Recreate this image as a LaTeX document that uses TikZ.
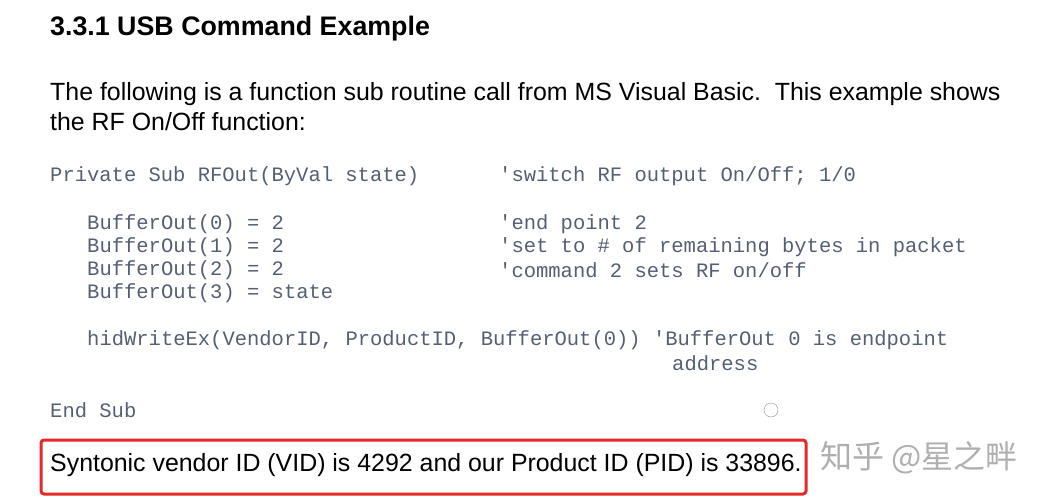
\documentclass[tikz,border=0pt]{standalone}
\usepackage{fontspec}
\setmainfont{Liberation Sans}
\setmonofont{Liberation Mono}
\newfontfamily\cjk{Noto Sans CJK SC}
\usetikzlibrary{math}
\definecolor{codegray}{RGB}{85,95,115}
\definecolor{boxred}{RGB}{230,40,40}
\definecolor{wmgray}{RGB}{175,175,175}
\begin{document}
\begin{tikzpicture}[x=1pt,y=-1pt,
	txt/.style={anchor=west,inner sep=0pt,font=\fontsize{24.9}{28}\selectfont},
	code/.style={anchor=west,inner sep=0pt,text=codegray,font=\ttfamily\fontsize{20.5}{24}\selectfont}]
	\tikzmath{\lx=50; \ix=87; \cx=499;}
	\useasboundingbox (0,0) rectangle (1044,500);
	\node[txt,font=\bfseries\fontsize{26.8}{30}\selectfont] (head) at (\lx,29) {3.3.1 USB Command Example};
	\node[txt] (para1) at (\lx,94) {The following is a function sub routine call from MS Visual Basic.\ \ This example shows};
	\node[txt] (para2) at (\lx,122) {the RF On/Off function:};
	\node[code] (sub) at (\lx,176) {Private Sub RFOut(ByVal state)};
	\node[code] (csub) at (\cx,176) {'switch RF output On/Off; 1/0};
	\node[code] (bo0) at (\ix,224) {BufferOut(0) = 2};
	\node[code] (c0) at (\cx,224) {'end point 2};
	\node[code] (bo1) at (\ix,247) {BufferOut(1) = 2};
	\node[code] (c1) at (\cx,247) {'set to \# of remaining bytes in packet};
	\node[code] (bo2) at (\ix,270) {BufferOut(2) = 2};
	\node[code] (c2) at (\cx,270) {'command 2 sets RF on/off};
	\node[code] (bo3) at (\ix,293) {BufferOut(3) = state};
	\node[code] (hid) at (\ix,340) {hidWriteEx(VendorID, ProductID, BufferOut(0)) 'BufferOut 0 is endpoint};
	\node[code] (addr) at (672,363) {address};
	\node[code] (end) at (\lx,410) {End Sub};
	\node[draw=codegray!70,circle,minimum size=14pt,inner sep=0pt] (icon) at (771,410) {};
	\node[txt] (vid) at (\lx,465) {Syntonic vendor ID (VID) is 4292 and our Product ID (PID) is 33896.};
	\draw[boxred,line width=3pt,rounded corners=3pt] (41,440) rectangle (806,494);
	\node[txt,text=wmgray,font=\cjk\fontsize{32}{36}\selectfont] (wm) at (820,458) {知乎 @星之畔};
\end{tikzpicture}
\end{document}
